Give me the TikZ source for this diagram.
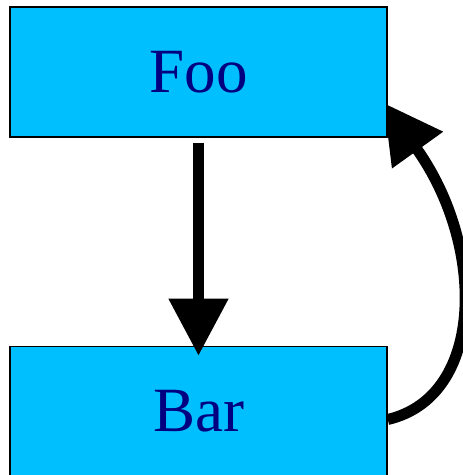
\documentclass[tikz,border=0pt]{standalone}
\usepackage{fontspec}
\setmainfont{Liberation Serif}
\usetikzlibrary{positioning, arrows.meta, backgrounds}
\definecolor{boxblue}{RGB}{0,191,255}
\definecolor{labelnavy}{RGB}{0,0,128}

\begin{document}
\begin{tikzpicture}[x=1pt, y=1pt,
  box/.style={draw=black, line width=1.5pt, fill=boxblue, text=labelnavy,
    minimum width=377pt, minimum height=130pt, inner sep=0pt, font=\fontsize{63}{70}\selectfont},
  flow/.style={line width=11pt, black}]

\useasboundingbox (0,0) rectangle (463,475);

\node[box] (foo) at (198.5,403) {Foo};
\node[box, below=208pt of foo] (bar) {Bar};

\draw[flow, -{Triangle[length=57pt, width=57pt]}, shorten <=5pt, shorten >=-10pt] (foo) -- (bar);

% back edge, its head tucked under the top box
\begin{pgfonlayer}{background}
\draw[flow, -{Triangle[length=58pt, width=60pt]}]
  ([yshift=-8pt]bar.east) .. controls +(98,23) and +(102,-142) .. ([xshift=-4pt, yshift=-31pt]foo.east);
\end{pgfonlayer}
\end{tikzpicture}
\end{document}
